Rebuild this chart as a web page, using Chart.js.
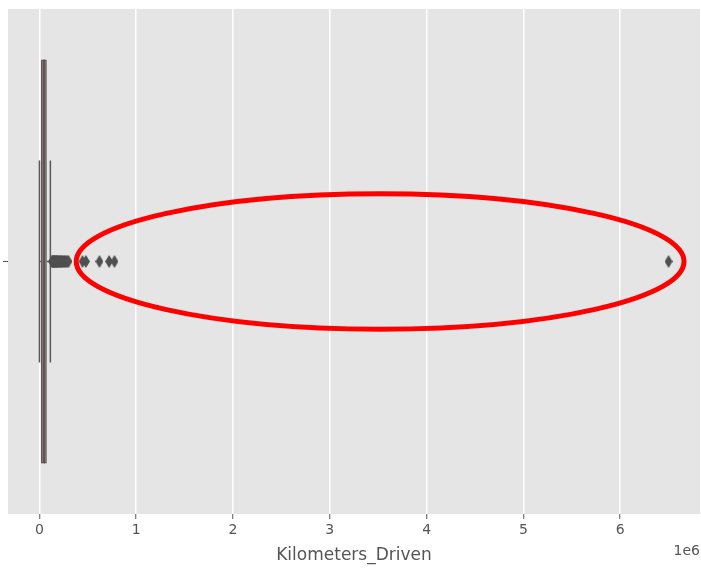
<!DOCTYPE html>
<html><head><meta charset="utf-8">
<script src="https://cdn.jsdelivr.net/npm/chart.js@4.4.0/dist/chart.umd.min.js"></script>
<style>html,body{margin:0;padding:0;background:#fff}canvas{display:block}</style>
</head><body>
<canvas id="c" width="701" height="569"></canvas>
<script>
// ---- data ----
const categories = [''];
const boxQ1 = [15000];
const boxMedian = [50000];
const boxQ3 = [76000];
const whiskerLow = [171];
const whiskerHigh = [113000];
const outliers = [131000, 135000, 138000, 140000, 142000, 145000, 148000, 150000, 155000, 160000,
  165000, 170000, 175000, 178000, 180000, 185000, 190000, 195000, 200000, 210000, 215000, 220000,
  225000, 230000, 240000, 250000, 255000, 262000, 270000, 282000, 290000, 299322,
  445000, 480000, 620000, 720000, 775000, 6500000];
const xTickValues = [0, 1000000, 2000000, 3000000, 4000000, 5000000, 6000000];
const xTickLabels = ['0', '1', '2', '3', '4', '5', '6'];
const axisTitle = 'Kilometers_Driven';
const offsetText = '1e6';
// red highlight ellipse (data units: x in km, y in category units)
const highlightCenter = 3520000;
const highlightHalfWidth = 3140000;
const highlightHalfHeight = 0.134;

// ---- styles ----
const FONT = "'DejaVu Sans', sans-serif";
const TEXT = '#555555';
const EDGE = '#595959';
const FILL = '#764a4a';

const allVals = whiskerLow.concat(whiskerHigh, outliers);
const lo = Math.min(...allVals), hi = Math.max(...allVals);
const pad = 0.05 * (hi - lo);

function thinDiamond(w, h, color) {
  const c = document.createElement('canvas');
  c.width = w; c.height = h;
  const g = c.getContext('2d');
  g.fillStyle = color;
  g.beginPath();
  g.moveTo(w / 2, 0); g.lineTo(w, h / 2); g.lineTo(w / 2, h); g.lineTo(0, h / 2);
  g.closePath(); g.fill();
  return c;
}
const diamond = thinDiamond(8, 13, '#505050');

const bgPlugin = {
  id: 'bg',
  beforeDraw(chart) {
    const { ctx, chartArea: a } = chart;
    ctx.save();
    ctx.fillStyle = '#ffffff';
    ctx.fillRect(0, 0, chart.width, chart.height);
    ctx.fillStyle = '#e5e5e5';
    ctx.fillRect(a.left, a.top, a.right - a.left, a.bottom - a.top);
    ctx.restore();
  }
};

const boxPlugin = {
  id: 'boxParts',
  beforeDatasetsDraw(chart) {
    const { ctx, scales: { x, y } } = chart;
    const el = chart.getDatasetMeta(0).data[0];
    ctx.save();
    ctx.strokeStyle = EDGE;
    ctx.lineWidth = 1.5;
    categories.forEach((c, i) => {
      const cy = y.getPixelForValue(i);
      const half = el.height / 4;
      const pL = x.getPixelForValue(whiskerLow[i]);
      const pH = x.getPixelForValue(whiskerHigh[i]);
      ctx.beginPath();
      ctx.moveTo(x.getPixelForValue(boxQ1[i]), cy); ctx.lineTo(pL, cy);
      ctx.moveTo(x.getPixelForValue(boxQ3[i]), cy); ctx.lineTo(pH, cy);
      ctx.moveTo(pL, cy - half); ctx.lineTo(pL, cy + half);
      ctx.moveTo(pH, cy - half); ctx.lineTo(pH, cy + half);
      ctx.stroke();
    });
    ctx.restore();
  },
  afterDatasetsDraw(chart) {
    const { ctx, scales: { x, y }, chartArea: a } = chart;
    const el = chart.getDatasetMeta(0).data[0];
    ctx.save();
    ctx.strokeStyle = EDGE;
    ctx.lineWidth = 1.5;
    categories.forEach((c, i) => {
      const cy = y.getPixelForValue(i);
      const pm = x.getPixelForValue(boxMedian[i]);
      ctx.beginPath();
      ctx.moveTo(pm, cy - el.height / 2); ctx.lineTo(pm, cy + el.height / 2);
      ctx.stroke();
    });
    // highlight ellipse
    const cx = x.getPixelForValue(highlightCenter);
    const rx = x.getPixelForValue(highlightCenter + highlightHalfWidth) - cx;
    const cy0 = y.getPixelForValue(0);
    const ry = Math.abs(y.getPixelForValue(highlightHalfHeight) - cy0);
    ctx.strokeStyle = '#ff0000';
    ctx.lineWidth = 5;
    ctx.beginPath();
    ctx.ellipse(cx, cy0, rx, ry, 0, 0, Math.PI * 2);
    ctx.stroke();
    // offset text
    ctx.fillStyle = TEXT;
    ctx.font = "14px " + FONT;
    ctx.textAlign = 'right';
    ctx.textBaseline = 'middle';
    ctx.fillText(offsetText, a.right, 551);
    ctx.restore();
  }
};

new Chart(document.getElementById('c'), {
  type: 'bar',
  data: {
    labels: categories,
    datasets: [
      {
        type: 'bar',
        data: categories.map((c, i) => [boxQ1[i], boxQ3[i]]),
        backgroundColor: FILL,
        borderColor: EDGE,
        borderWidth: 1.5,
        borderSkipped: false,
        barPercentage: 0.8,
        categoryPercentage: 1.0
      },
      {
        type: 'scatter',
        indexAxis: 'y',
        data: outliers.map(v => ({ x: v, y: categories[0] })),
        pointStyle: diamond,
        pointRadius: 5,
        showLine: false
      }
    ]
  },
  options: {
    indexAxis: 'y',
    responsive: false,
    animation: false,
    devicePixelRatio: 1,
    layout: { autoPadding: false, padding: { left: 0, top: 9, right: 1, bottom: 0 } },
    plugins: { legend: { display: false }, tooltip: { enabled: false } },
    scales: {
      x: {
        type: 'linear',
        min: lo - pad,
        max: hi + pad,
        afterFit(scale) { scale.height = 55; scale.paddingLeft = 0; scale.paddingRight = 0; },
        afterBuildTicks(scale) { scale.ticks = xTickValues.map(v => ({ value: v })); },
        border: { display: false },
        grid: { color: '#ffffff', lineWidth: 1.5, tickColor: TEXT, tickLength: 5, tickWidth: 1 },
        ticks: {
          padding: 3,
          color: TEXT,
          font: { family: FONT, size: 14 },
          maxRotation: 0,
          callback(v) { const k = xTickValues.indexOf(v); return k >= 0 ? xTickLabels[k] : ''; }
        },
        title: { display: true, text: axisTitle, color: TEXT, font: { family: FONT, size: 17 }, padding: { top: 0, bottom: 3 } }
      },
      y: {
        type: 'category',
        afterFit(scale) { scale.width = 8; scale.paddingTop = 0; scale.paddingBottom = 0; },
        border: { display: false },
        grid: { drawOnChartArea: false, offset: false, tickColor: TEXT, tickLength: 5, tickWidth: 1 },
        ticks: { display: false }
      }
    }
  },
  plugins: [bgPlugin, boxPlugin]
});
</script>
</body></html>
